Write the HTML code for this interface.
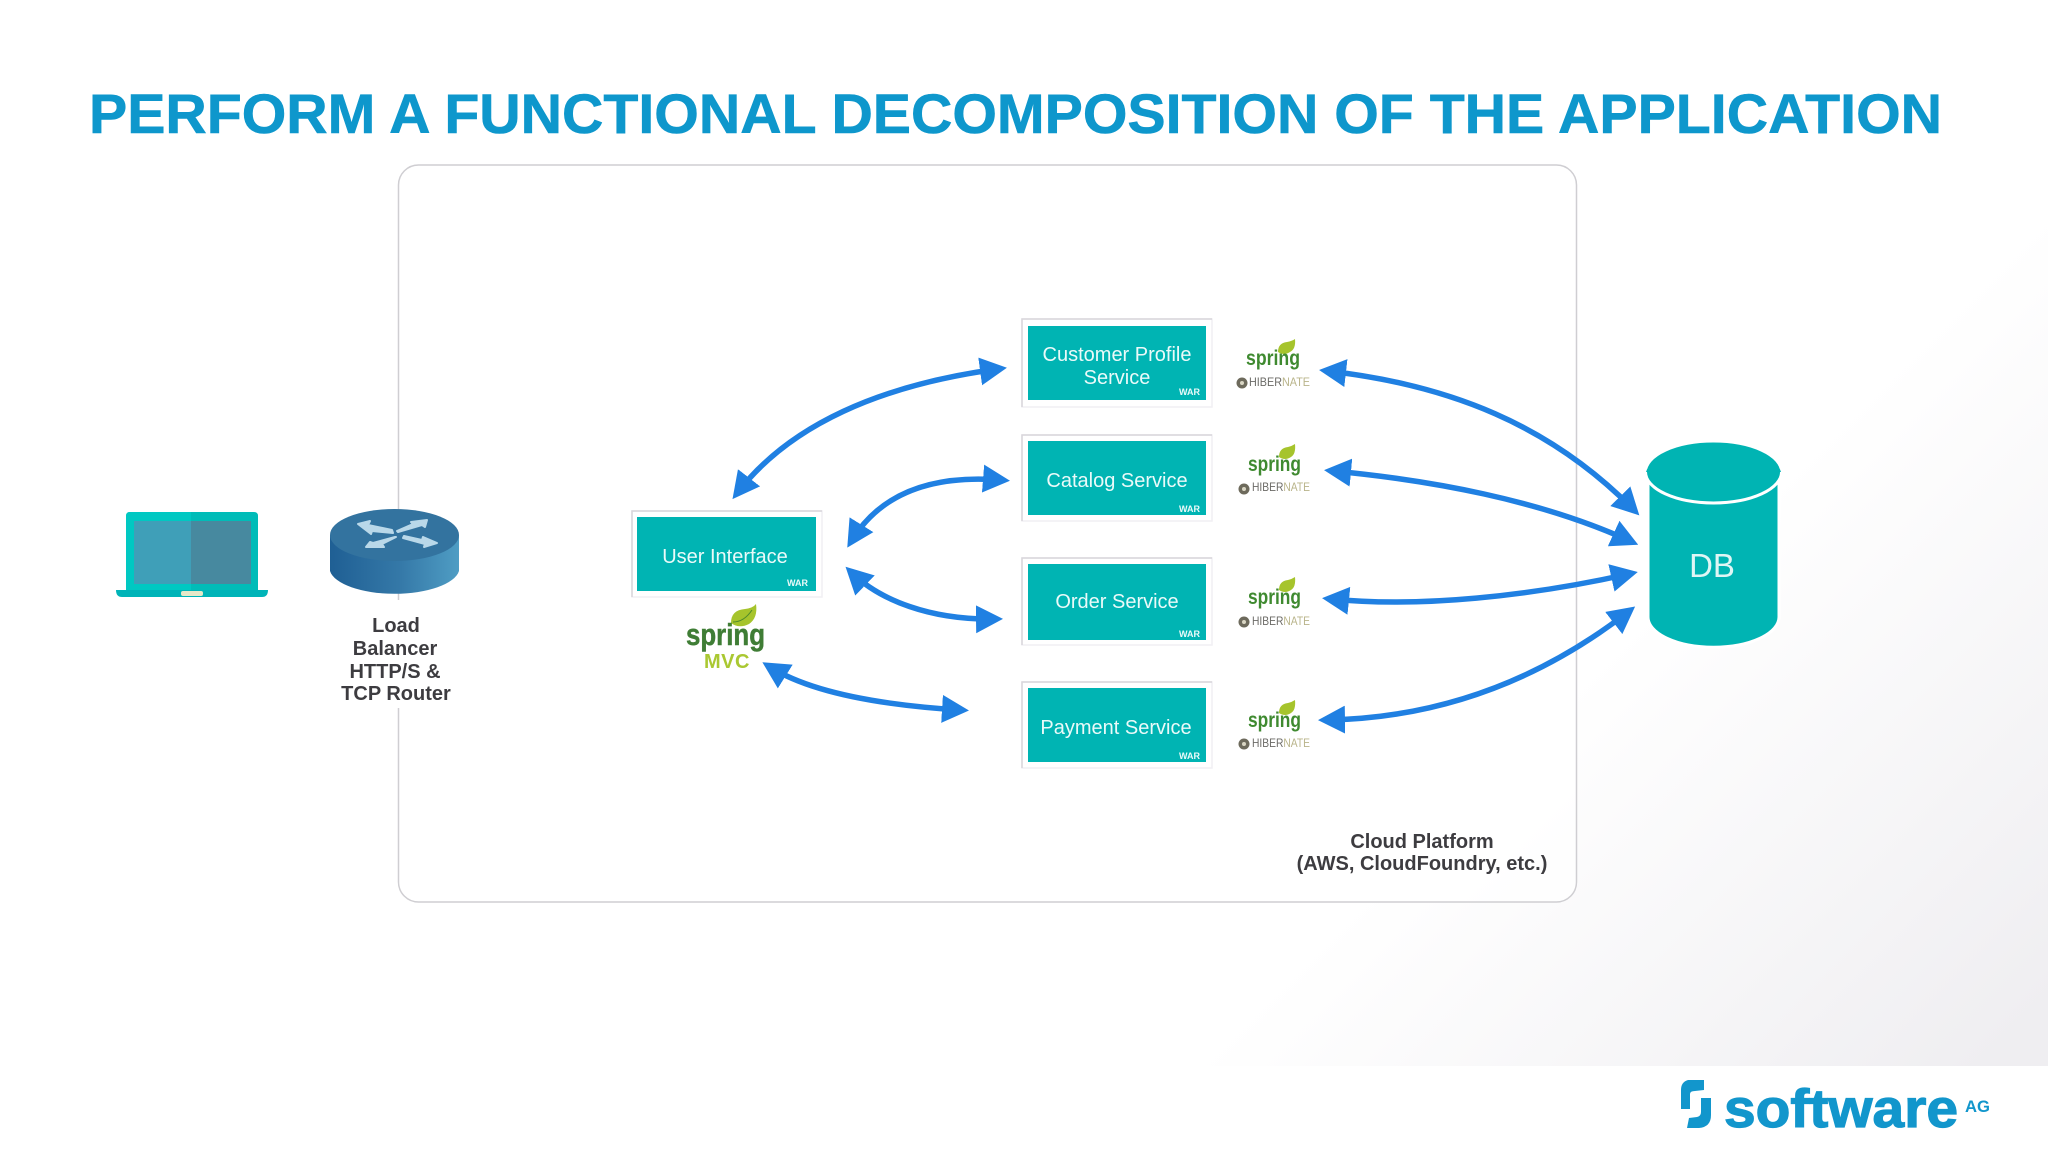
<!DOCTYPE html>
<html><head><meta charset="utf-8"><title>Functional decomposition</title>
<style>
html,body{margin:0;padding:0;width:2048px;height:1152px;overflow:hidden;background:#fff}
svg{display:block}
text{font-family:"Liberation Sans",sans-serif}
</style></head><body>
<svg xmlns="http://www.w3.org/2000/svg" width="2048" height="1152" viewBox="0 0 2048 1152">
<defs>
<linearGradient id="bg" gradientUnits="userSpaceOnUse" x1="1480" y1="780" x2="1875" y2="1175"><stop offset="0" stop-color="#ffffff"/><stop offset="1" stop-color="#efeef1"/></linearGradient>
<linearGradient id="side" x1="0" y1="0" x2="1" y2="0"><stop offset="0" stop-color="#1f5f94"/><stop offset="0.55" stop-color="#3579a8"/><stop offset="1" stop-color="#4f9dc4"/></linearGradient>
<marker id="h" markerUnits="userSpaceOnUse" markerWidth="27" markerHeight="28" refX="18" refY="14" orient="auto-start-reverse"><path d="M0,0 L27,14 L0,28 z" fill="#2080e2"/></marker>
</defs>
<rect width="2048" height="1066" fill="url(#bg)"/>
<rect y="1066" width="2048" height="86" fill="#fff"/>

<text x="89" y="133" font-size="56" font-weight="700" fill="#0e97cc" stroke="#0e97cc" stroke-width="0.600" textLength="1853" lengthAdjust="spacingAndGlyphs">PERFORM A FUNCTIONAL DECOMPOSITION OF THE APPLICATION</text>

<rect x="398.500" y="165" width="1178" height="737" rx="20" fill="#ffffff" fill-opacity="0.7" stroke="#cfced2" stroke-width="1.500"/>

<!-- laptop -->
<path d="M126,516 Q126,512 130,512 L254,512 Q258,512 258,516 L258,590 L126,590 z" fill="#00bcb8"/>
<path d="M126,516 Q126,512 130,512 L191,512 L191,590 L126,590 z" fill="#00c8c2"/>
<rect x="134" y="521" width="57" height="63" fill="#3f9fb8"/>
<rect x="191" y="521" width="60" height="63" fill="#47899f"/>
<path d="M116,590 L268,590 Q268,597 262,597 L122,597 Q116,597 116,590 z" fill="#00b4b8"/>
<rect x="181" y="591" width="22" height="5" rx="2" fill="#e6e8c8"/>

<!-- router -->
<rect x="340" y="600" width="112" height="108" fill="#fff"/>
<path d="M330,535 L330,571 A65,26 0 0 0 459,571 L459,535 z" fill="url(#side)"/>
<ellipse cx="394.500" cy="535" rx="64.500" ry="26" fill="#33739f"/>
<g fill="#b9d8e9" stroke="#b9d8e9" stroke-width="2" stroke-linejoin="round">
<path d="M358,524 L370,521 L368,525 L392,530 L393,533 L372,531 L371,534 z"/>
<path d="M427,520 L425,527 L422,525 L398,532 L397,531 L413,524 L411,522 z"/>
<path d="M366,547 L370,542 L373,543 L395,537 L396,537 L382,544 L384,547 z"/>
<path d="M437,543 L424,547 L425,544 L403,538 L404,536 L422,540 L423,537 z"/>
</g>
<g font-size="20" font-weight="700" fill="#3d3c40" text-anchor="middle">
<text x="396" y="632">Load</text>
<text x="395" y="655">Balancer</text>
<text x="395" y="678">HTTP/S &amp;</text>
<text x="396" y="700">TCP Router</text>
</g>

<!-- boxes -->
<g fill="#fff" stroke="#f1eff3" stroke-width="1.500">
<rect x="632" y="511" width="190" height="86"/>
<rect x="1022" y="319" width="190" height="88"/>
<rect x="1022" y="435" width="190" height="86"/>
<rect x="1022" y="558" width="190" height="87"/>
<rect x="1022" y="682" width="190" height="86"/>
</g>
<g fill="none" stroke="#d8d6db" stroke-width="1.500">
<path d="M632,597 V511 H822"/>
<path d="M1022,407 V319 H1212"/>
<path d="M1022,521 V435 H1212"/>
<path d="M1022,645 V558 H1212"/>
<path d="M1022,768 V682 H1212"/>
</g>
<g fill="#00b4b3">
<rect x="637" y="517" width="179" height="74"/>
<rect x="1028" y="326" width="178" height="74"/>
<rect x="1028" y="441" width="178" height="74"/>
<rect x="1028" y="564" width="178" height="76"/>
<rect x="1028" y="688" width="178" height="74"/>
</g>
<g font-size="20" fill="#eafaf9" text-anchor="middle">
<text x="725" y="563">User Interface</text>
<text x="1117" y="361">Customer Profile</text>
<text x="1117" y="384">Service</text>
<text x="1117" y="487">Catalog Service</text>
<text x="1117" y="608">Order Service</text>
<text x="1116" y="734">Payment Service</text>
</g>
<g font-size="9" font-weight="700" fill="#eafaf9" text-anchor="end">
<text x="808" y="586">WAR</text>
<text x="1200" y="395">WAR</text>
<text x="1200" y="512">WAR</text>
<text x="1200" y="637">WAR</text>
<text x="1200" y="759">WAR</text>
</g>

<!-- spring mvc -->
<path d="M731,623 Q731,610 745,609 Q753,608 756,604 Q758,618 749,624 Q739,629 731,623 z" fill="#a6c42c"/>
<path d="M733,622 Q744,622 752,610" fill="none" stroke="#4f8a2a" stroke-width="1"/>
<text x="686" y="645" font-size="31" font-weight="700" fill="#3f7d35" stroke="#3f7d35" stroke-width="0.500" textLength="79" lengthAdjust="spacingAndGlyphs">spring</text>
<text x="727" y="668" font-size="20" font-weight="700" fill="#aac832" text-anchor="middle" letter-spacing="0.500">MVC</text>

<!-- spring / hibernate 1 -->
<path d="M1278,352 Q1278,343 1287,342 Q1292,341 1295,339 Q1296,349 1290,352 Q1284,356 1278,352 z" fill="#a6c42c"/>
<text x="1246" y="365" font-size="21" font-weight="700" fill="#3f8a30" textLength="54" lengthAdjust="spacingAndGlyphs">spring</text>
<circle cx="1242" cy="383" r="5.500" fill="#6d6a5c"/><circle cx="1242" cy="383" r="2" fill="#d9d6c4"/>
<text x="1249" y="386" font-size="12" fill="#6b6a66" textLength="61" lengthAdjust="spacingAndGlyphs">HIBER<tspan fill="#b9b48a">NATE</tspan></text>
<!-- 2 -->
<path d="M1279,457 Q1279,448 1288,447 Q1292,446 1295,444 Q1296,454 1291,457 Q1285,461 1279,457 z" fill="#a6c42c"/>
<text x="1248" y="471" font-size="21" font-weight="700" fill="#3f8a30" textLength="53" lengthAdjust="spacingAndGlyphs">spring</text>
<circle cx="1244" cy="489" r="5.500" fill="#6d6a5c"/><circle cx="1244" cy="489" r="2" fill="#d9d6c4"/>
<text x="1252" y="491" font-size="12" fill="#6b6a66" textLength="58" lengthAdjust="spacingAndGlyphs">HIBER<tspan fill="#b9b48a">NATE</tspan></text>
<!-- 3 -->
<path d="M1279,590 Q1279,581 1288,580 Q1292,579 1295,577 Q1296,587 1291,590 Q1285,594 1279,590 z" fill="#a6c42c"/>
<text x="1248" y="604" font-size="21" font-weight="700" fill="#3f8a30" textLength="53" lengthAdjust="spacingAndGlyphs">spring</text>
<circle cx="1244" cy="622" r="5.500" fill="#6d6a5c"/><circle cx="1244" cy="622" r="2" fill="#d9d6c4"/>
<text x="1252" y="625" font-size="12" fill="#6b6a66" textLength="58" lengthAdjust="spacingAndGlyphs">HIBER<tspan fill="#b9b48a">NATE</tspan></text>
<!-- 4 -->
<path d="M1279,713 Q1279,704 1288,703 Q1292,702 1295,700 Q1296,710 1291,713 Q1285,717 1279,713 z" fill="#a6c42c"/>
<text x="1248" y="727" font-size="21" font-weight="700" fill="#3f8a30" textLength="53" lengthAdjust="spacingAndGlyphs">spring</text>
<circle cx="1244" cy="744" r="5.500" fill="#6d6a5c"/><circle cx="1244" cy="744" r="2" fill="#d9d6c4"/>
<text x="1252" y="747" font-size="12" fill="#6b6a66" textLength="58" lengthAdjust="spacingAndGlyphs">HIBER<tspan fill="#b9b48a">NATE</tspan></text>

<!-- arrows -->
<g fill="none" stroke="#2080e2" stroke-width="5.500" marker-start="url(#h)" marker-end="url(#h)">
<path d="M738,492 C790,425 880,385 998,369"/>
<path d="M852,540 C878,498 925,474 1001,480"/>
<path d="M852,573 C880,600 930,620 994,619"/>
<path d="M770,667 C810,692 880,705 960,710"/>
<path d="M1328,371 C1450,385 1550,425 1633,509"/>
<path d="M1333,471 C1430,480 1540,500 1630,541"/>
<path d="M1331,599 C1420,608 1530,596 1629,574"/>
<path d="M1327,720 C1440,718 1540,680 1628,612"/>
</g>

<!-- DB -->
<path d="M1648,472 L1648,617 A65,30 0 0 0 1779,617 L1779,472 z" fill="#00b4b3" stroke="#fff" stroke-width="3"/>
<ellipse cx="1713.500" cy="472" rx="68" ry="31" fill="#00b4b3" stroke="#fff" stroke-width="3"/>
<path d="M1646,472 A68,30 0 0 1 1781,472" fill="#00b4b3"/>
<text x="1712" y="577" font-size="33" fill="#dff6f5" text-anchor="middle">DB</text>

<g font-size="20" font-weight="700" fill="#3d3c40" text-anchor="middle">
<text x="1422" y="848">Cloud Platform</text>
<text x="1422" y="870">(AWS, CloudFoundry, etc.)</text>
</g>

<!-- logo -->
<path d="M1704,1080 L1688,1080 Q1681,1082 1681,1090 L1681,1109 L1690,1109 L1690,1094 Q1690,1091 1695,1091 L1704,1090 z" fill="#1296cc"/>
<path d="M1711,1098 L1711,1115 Q1711,1127 1699,1128 L1687,1128 L1689,1118 L1697,1117 Q1701,1116 1701,1112 L1701,1098 z" fill="#1296cc"/>
<text x="1724" y="1127" font-size="54" font-weight="700" fill="#1296cc" stroke="#1296cc" stroke-width="1.200" textLength="234" lengthAdjust="spacingAndGlyphs">software</text>
<text x="1965" y="1112" font-size="17" font-weight="700" fill="#1296cc" textLength="25" lengthAdjust="spacingAndGlyphs">AG</text>
</svg>
</body></html>
